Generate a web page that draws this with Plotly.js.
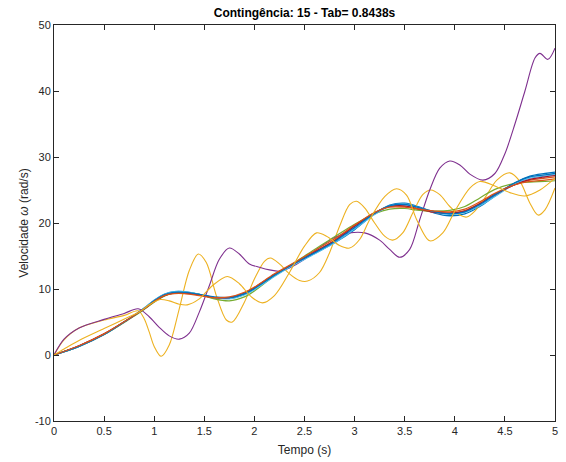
<!DOCTYPE html>
<html>
<head>
<meta charset="utf-8">
<script src="https://cdn.plot.ly/plotly-3.0.1.min.js"></script>
<style>html,body{margin:0;padding:0;background:#fff;}#chart{width:566px;height:462px;}</style>
</head>
<body>
<div id="chart"></div>
<script>
// ---- data ----
const tBundle = [0,0.25,0.5,0.75,0.9,1.0,1.1,1.2,1.3,1.45,1.6,1.75,1.9,2.0,2.2,2.4,2.6,2.8,3.0,3.2,3.35,3.5,3.65,3.8,3.95,4.1,4.25,4.4,4.6,4.75,4.9,5.0];
const blue1   = [0,1.3,3.1,5.5,7.1,8.3,9.2,9.6,9.6,9.2,8.7,8.6,9.2,10.0,12.0,13.8,15.4,17.0,19.0,21.4,22.7,23.0,22.4,21.5,21.1,21.4,22.5,24.1,26.1,27.1,27.5,27.7];
const blue2   = [0,1.3,3.1,5.5,7.0,8.2,9.1,9.5,9.5,9.2,8.8,8.7,9.3,10.1,12.1,13.9,15.5,17.2,19.3,21.5,22.6,22.8,22.3,21.7,21.4,21.7,22.8,24.3,26.1,27.0,27.3,27.5];
const orange1 = [0,1.4,3.2,5.5,7.0,8.1,9.0,9.4,9.4,9.1,8.7,8.7,9.4,10.2,12.2,13.9,15.6,17.4,19.6,21.6,22.5,22.5,22.0,21.6,21.5,21.9,23.0,24.4,25.8,26.5,26.8,27.0];
const orange2 = [0,1.4,3.2,5.5,7.0,8.1,9.0,9.3,9.3,9.0,8.7,8.8,9.5,10.3,12.3,14.0,15.8,17.6,19.7,21.6,22.4,22.4,22.1,21.8,21.7,22.1,23.2,24.5,25.8,26.3,26.5,26.7];
const green1  = [0,1.3,3.1,5.4,6.9,8.0,8.9,9.4,9.5,9.2,8.5,8.2,8.8,9.7,12.0,14.0,16.0,17.9,19.8,21.4,22.1,22.2,21.9,21.8,21.9,22.5,23.8,25.1,26.0,26.2,26.3,26.4];
const ltblue1 = [0,1.3,3.1,5.5,7.1,8.3,9.2,9.6,9.6,9.2,8.7,8.5,9.1,9.9,11.9,13.7,15.3,17.0,19.1,21.3,22.6,22.9,22.3,21.6,21.3,21.6,22.6,24.0,25.9,26.8,27.1,27.3];
const dkred1  = [0,1.4,3.2,5.5,7.0,8.1,9.0,9.4,9.4,9.1,8.7,8.7,9.4,10.2,12.2,13.9,15.6,17.3,19.5,21.5,22.5,22.6,22.1,21.6,21.5,21.8,22.9,24.3,25.8,26.6,27.0,27.2];

const tPurple = [0,0.1,0.25,0.5,0.7,0.84,0.95,1.05,1.15,1.25,1.35,1.45,1.55,1.65,1.75,1.85,1.95,2.05,2.15,2.25,2.35,2.5,2.65,2.8,2.95,3.1,3.25,3.35,3.45,3.55,3.65,3.75,3.85,3.95,4.05,4.15,4.28,4.4,4.5,4.6,4.7,4.8,4.85,4.93,5.0];
const purple  = [0,2.4,4.1,5.4,6.3,7.0,5.8,4.2,2.9,2.4,3.3,6.5,10.5,14.5,16.2,15.3,13.8,13.3,12.9,12.7,13.2,14.5,16.3,17.8,18.5,18.5,17.4,16.0,14.8,16.0,20.5,25.0,28.3,29.4,28.8,27.4,26.5,27.5,30.5,35.0,40.0,45.0,45.7,44.8,46.5];

const tYelA = [0,0.1,0.25,0.5,0.7,0.84,0.9,0.95,1.0,1.07,1.15,1.25,1.35,1.44,1.52,1.62,1.72,1.78,1.9,2.0,2.1,2.16,2.25,2.35,2.45,2.53,2.65,2.75,2.85,2.95,3.02,3.1,3.2,3.3,3.38,3.48,3.58,3.68,3.76,3.85,3.95,4.05,4.12,4.2,4.3,4.42,4.55,4.65,4.75,4.83,4.9,5.0];
const yelA  = [0,2.3,4.1,5.3,6.0,6.7,5.5,3.5,1.3,-0.2,1.5,7.0,12.8,15.3,14.0,9.0,5.3,5.0,8.0,11.5,14.2,14.7,13.8,12.3,11.3,11.2,12.5,15.5,19.5,22.8,23.3,22.3,20.0,18.0,17.4,18.5,21.5,24.3,25.0,24.3,22.5,21.2,20.9,21.8,23.8,26.5,27.6,26.3,23.0,21.2,22.0,25.3];

const tYelB = [0,0.1,0.25,0.5,0.75,0.86,0.95,1.06,1.15,1.25,1.33,1.45,1.58,1.73,1.85,1.97,2.08,2.2,2.35,2.5,2.62,2.72,2.85,2.95,3.05,3.15,3.3,3.42,3.52,3.62,3.75,3.88,4.0,4.15,4.25,4.4,4.55,4.7,4.85,5.0];
const yelB  = [0,0.9,2.2,4.0,5.8,6.6,7.6,8.4,8.2,7.7,7.6,8.5,10.5,11.9,10.8,8.8,7.9,9.0,12.5,16.5,18.5,18.0,16.6,16.2,17.5,20.5,24.0,25.2,24.2,20.5,17.3,18.5,21.8,25.3,26.3,25.6,24.6,24.1,25.0,26.8];

const xTicks = [0,0.5,1,1.5,2,2.5,3,3.5,4,4.5,5];
const xTickText = ["0","0.5","1","1.5","2","2.5","3","3.5","4","4.5","5"];
const yTicks = [-10,0,10,20,30,40,50];
const yTickText = ["-10","0","10","20","30","40","50"];

const C = {blue:'#0072BD', orange:'#D95319', yellow:'#EDB120', purple:'#7E2F8E', green:'#77AC30', ltblue:'#4DBEEE', dkred:'#A2142F'};

function tr(x, y, color, w) {
  return {x:x, y:y, type:'scatter', mode:'lines', line:{color:color, width:w||1.1, shape:'spline', smoothing:0.9}, hoverinfo:'skip'};
}

const data = [
  tr(tBundle, blue1, C.blue, 1.3),
  tr(tBundle, orange1, C.orange, 1.2),
  tr(tYelA, yelA, C.yellow, 1.1),
  tr(tPurple, purple, C.purple, 1.1),
  tr(tBundle, green1, C.green, 1.2),
  tr(tBundle, ltblue1, C.ltblue, 1.2),
  tr(tBundle, dkred1, C.dkred, 1.2),
  tr(tBundle, blue2, C.blue, 1.3),
  tr(tBundle, orange2, C.orange, 1.2),
  tr(tYelB, yelB, C.yellow, 1.1)
];

const axCol = '#262626';
const layout = {
  width:566, height:462,
  margin:{l:54, r:11, t:25, b:41, pad:0},
  paper_bgcolor:'#fff', plot_bgcolor:'#fff',
  showlegend:false,
  font:{family:'Liberation Sans, Arial, sans-serif', size:11, color:axCol},
  title:{text:'<b>Contingência: 15 - Tab= 0.8438s</b>', x:0.5, xref:'paper', xanchor:'center', y:1-13/462, yref:'container', yanchor:'middle', font:{size:12, color:'#000', family:'Liberation Sans, Arial, sans-serif'}},
  xaxis:{range:[0,5], tickvals:xTicks, ticktext:xTickText, ticks:'inside', ticklen:5, tickwidth:1, tickcolor:axCol,
    showline:true, linecolor:axCol, linewidth:1, mirror:'ticks', showgrid:false, zeroline:false,
    tickfont:{size:11, color:axCol},
    title:{text:'Tempo (s)', font:{size:12, color:axCol}, standoff:9}},
  yaxis:{range:[-10,50], tickvals:yTicks, ticktext:yTickText, ticks:'inside', ticklen:5, tickwidth:1, tickcolor:axCol,
    showline:true, linecolor:axCol, linewidth:1, mirror:'ticks', showgrid:false, zeroline:false,
    tickfont:{size:11, color:axCol},
    title:{text:'Velocidade <i>ω</i> (rad/s)', font:{size:12, color:axCol}, standoff:3}}
};

Plotly.newPlot('chart', data, layout, {staticPlot:true, displayModeBar:false});
</script>
</body>
</html>
